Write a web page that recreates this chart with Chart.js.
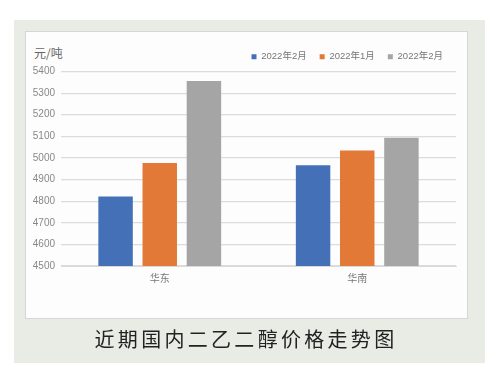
<!DOCTYPE html>
<html>
<head>
<meta charset="utf-8">
<script src="https://cdn.jsdelivr.net/npm/chart.js"></script>
<style>
  body { margin: 0; width: 485px; height: 374px; background: #ffffff; position: relative; overflow: hidden; font-family: "Liberation Sans", "Noto Sans CJK SC", sans-serif; }
  .frame { position: absolute; left: 14px; top: 20px; width: 471px; height: 343px; background: #e8ece5; }
  .panel { position: absolute; left: 25px; top: 31px; width: 441px; height: 286px; background: #fdfdfd; border: 1px solid #d6d6d4; }
  .unit { position: absolute; left: 34px; top: 44px; font-size: 12px; color: #666; font-family: "Noto Sans CJK SC", sans-serif; }
  .caption { position: absolute; left: 0; top: 325px; width: 485px; padding-left: 7px; box-sizing: border-box; text-align: center; font-family: "Noto Sans CJK SC", sans-serif; font-size: 20px; letter-spacing: 3.3px; color: #222; line-height: 28px; }
  canvas { position: absolute; left: 0; top: 0; }
</style>
</head>
<body>
<div class="frame"></div>
<div class="panel"></div>
<div class="unit">元/吨</div>
<canvas id="chart" width="485" height="374"></canvas>
<div class="caption">近期国内二乙二醇价格走势图</div>
<script>
// categories and series
const regions = ['华东', '华南'];
const seriesNames = ['2022年2月', '2022年1月', '2022年2月'];
const seriesA = [4822, 4966];
const seriesB = [4977, 5034];
const seriesC = [5356, 5094];
const colors = ['#4470b8', '#e27936', '#a6a5a5'];

const yMin = 4500;
const yMax = 5400;
const yStep = 100;

new Chart(document.getElementById('chart'), {
  type: 'bar',
  data: {
    labels: regions,
    datasets: [seriesA, seriesB, seriesC].map((d, i) => ({
      label: seriesNames[i],
      data: d,
      backgroundColor: colors[i],
      borderWidth: 0,
      categoryPercentage: 0.671,
      barPercentage: 0.78
    }))
  },
  options: {
    responsive: false,
    animation: false,
    layout: { padding: { left: 25, right: 29, top: 39, bottom: 77 } },
    plugins: {
      tooltip: { enabled: false },
      legend: {
        position: 'top',
        align: 'end',
        labels: {
          boxWidth: 5,
          boxHeight: 5,
          padding: 13,
          color: '#777',
          font: { size: 9.5, family: '"Liberation Sans", "Noto Sans CJK SC", sans-serif' }
        }
      }
    },
    scales: {
      x: {
        grid: { display: false, drawTicks: false },
        border: { display: true, color: '#d9d9d9', width: 1 },
        ticks: { color: '#777', padding: 6, font: { size: 10, family: '"Noto Sans CJK SC", sans-serif' } },
        afterFit: s => { s.height = 31; }
      },
      y: {
        min: yMin,
        max: yMax,
        grid: { color: '#dcdcdc', lineWidth: 1.2, drawTicks: false },
        border: { display: false },
        ticks: { stepSize: yStep, color: '#888', padding: 6, callback: v => String(v), font: { size: 10, family: '"Liberation Sans", sans-serif' } },
        afterFit: s => { s.width = 36; }
      }
    }
  }
});
</script>
</body>
</html>
